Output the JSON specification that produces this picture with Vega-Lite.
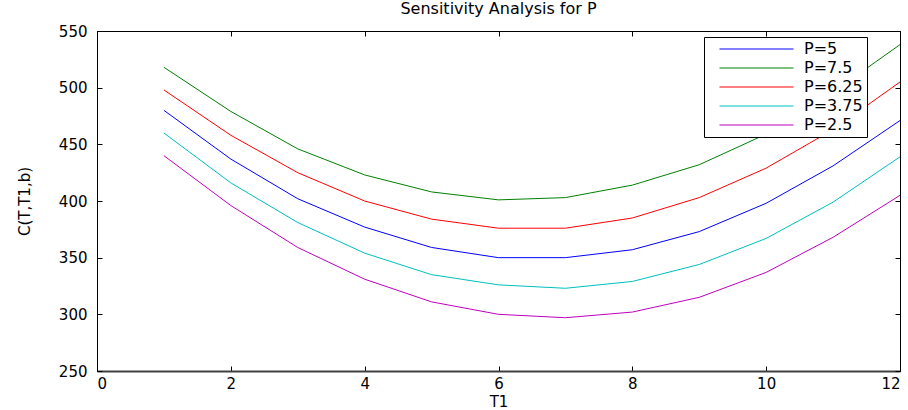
{
  "$schema": "https://vega.github.io/schema/vega-lite/v6.json",
  "width": 803,
  "height": 340,
  "autosize": {"type": "none"},
  "padding": {"left": 97, "top": 31, "right": 8, "bottom": 39},
  "background": "white",
  "title": {"text": "Sensitivity Analysis for P", "fontSize": 16, "fontWeight": "normal", "font": "DejaVu Sans", "offset": 7, "color": "black"},
  "config": {
    "view": {"stroke": "black", "strokeWidth": 1},
    "axis": {
      "grid": false,
      "ticks": true,
      "domainColor": "black",
      "tickColor": "black",
      "tickSize": -5,
      "tickWidth": 1,
      "labelFont": "DejaVu Sans",
      "labelFontSize": 15,
      "labelColor": "black",
      "titleFont": "DejaVu Sans",
      "titleFontSize": 15,
      "titleFontWeight": "normal",
      "titleColor": "black"
    },
    "legend": {
      "orient": "none",
      "legendX": 607,
      "legendY": 6,
      "symbolType": "stroke",
      "symbolSize": 5476,
      "symbolStrokeWidth": 1,
      "clipHeight": 16,
      "rowPadding": 3,
      "padding": 4,
      "symbolOffset": 11,
      "labelOffset": 10,
      "strokeColor": "black",
      "fillColor": "white",
      "labelFont": "DejaVu Sans",
      "labelFontSize": 16,
      "labelColor": "black"
    }
  },
  "data": {
    "values": [
      {"P": "P=7.5", "T1": 1, "C": 518}, {"P": "P=7.5", "T1": 2, "C": 479}, {"P": "P=7.5", "T1": 3, "C": 446}, {"P": "P=7.5", "T1": 4, "C": 423}, {"P": "P=7.5", "T1": 5, "C": 408}, {"P": "P=7.5", "T1": 6, "C": 401}, {"P": "P=7.5", "T1": 7, "C": 403}, {"P": "P=7.5", "T1": 8, "C": 414}, {"P": "P=7.5", "T1": 9, "C": 432}, {"P": "P=7.5", "T1": 10, "C": 459}, {"P": "P=7.5", "T1": 11, "C": 496}, {"P": "P=7.5", "T1": 12, "C": 538},
      {"P": "P=6.25", "T1": 1, "C": 498}, {"P": "P=6.25", "T1": 2, "C": 458}, {"P": "P=6.25", "T1": 3, "C": 425}, {"P": "P=6.25", "T1": 4, "C": 400}, {"P": "P=6.25", "T1": 5, "C": 384}, {"P": "P=6.25", "T1": 6, "C": 376}, {"P": "P=6.25", "T1": 7, "C": 376}, {"P": "P=6.25", "T1": 8, "C": 385}, {"P": "P=6.25", "T1": 9, "C": 403}, {"P": "P=6.25", "T1": 10, "C": 429}, {"P": "P=6.25", "T1": 11, "C": 463}, {"P": "P=6.25", "T1": 12, "C": 505},
      {"P": "P=5", "T1": 1, "C": 480}, {"P": "P=5", "T1": 2, "C": 437}, {"P": "P=5", "T1": 3, "C": 402}, {"P": "P=5", "T1": 4, "C": 377}, {"P": "P=5", "T1": 5, "C": 359}, {"P": "P=5", "T1": 6, "C": 350}, {"P": "P=5", "T1": 7, "C": 350}, {"P": "P=5", "T1": 8, "C": 357}, {"P": "P=5", "T1": 9, "C": 373}, {"P": "P=5", "T1": 10, "C": 398}, {"P": "P=5", "T1": 11, "C": 431}, {"P": "P=5", "T1": 12, "C": 471},
      {"P": "P=3.75", "T1": 1, "C": 460}, {"P": "P=3.75", "T1": 2, "C": 416}, {"P": "P=3.75", "T1": 3, "C": 381}, {"P": "P=3.75", "T1": 4, "C": 354}, {"P": "P=3.75", "T1": 5, "C": 335}, {"P": "P=3.75", "T1": 6, "C": 326}, {"P": "P=3.75", "T1": 7, "C": 323}, {"P": "P=3.75", "T1": 8, "C": 329}, {"P": "P=3.75", "T1": 9, "C": 344}, {"P": "P=3.75", "T1": 10, "C": 367}, {"P": "P=3.75", "T1": 11, "C": 399}, {"P": "P=3.75", "T1": 12, "C": 439},
      {"P": "P=2.5", "T1": 1, "C": 440}, {"P": "P=2.5", "T1": 2, "C": 396}, {"P": "P=2.5", "T1": 3, "C": 359}, {"P": "P=2.5", "T1": 4, "C": 331}, {"P": "P=2.5", "T1": 5, "C": 311}, {"P": "P=2.5", "T1": 6, "C": 300}, {"P": "P=2.5", "T1": 7, "C": 297}, {"P": "P=2.5", "T1": 8, "C": 302}, {"P": "P=2.5", "T1": 9, "C": 315}, {"P": "P=2.5", "T1": 10, "C": 337}, {"P": "P=2.5", "T1": 11, "C": 368}, {"P": "P=2.5", "T1": 12, "C": 405}
    ]
  },
  "layer": [
    {
      "mark": {"type": "line", "strokeWidth": 1, "clip": true},
      "encoding": {
        "x": {"field": "T1", "type": "quantitative", "scale": {"domain": [0, 12], "nice": false},
              "axis": {"values": [0, 2, 4, 6, 8, 10, 12], "title": "T1", "labelPadding": 10, "titlePadding": 3, "domainColor": "#404040", "domainWidth": 2}},
        "y": {"field": "C", "type": "quantitative", "scale": {"domain": [250, 550], "nice": false, "zero": false},
              "axis": {"values": [250, 300, 350, 400, 450, 500, 550], "title": "C(T,T1,b)", "labelPadding": 15, "titlePadding": 26}},
        "color": {"field": "P", "type": "nominal",
                  "scale": {"domain": ["P=5", "P=7.5", "P=6.25", "P=3.75", "P=2.5"], "range": ["#0000ff", "#008000", "#ff0000", "#00bfbf", "#bf00bf"]},
                  "legend": {"title": null}}
      }
    },
    {
      "mark": {"type": "line", "opacity": 0},
      "encoding": {
        "x": {"field": "T1", "type": "quantitative", "scale": {"domain": [0, 12], "nice": false},
              "axis": {"orient": "top", "values": [0, 2, 4, 6, 8, 10, 12], "labels": false, "title": null}},
        "y": {"field": "C", "type": "quantitative", "scale": {"domain": [250, 550], "nice": false, "zero": false},
              "axis": {"orient": "right", "values": [250, 300, 350, 400, 450, 500, 550], "labels": false, "title": null}},
        "detail": {"field": "P"}
      }
    }
  ],
  "resolve": {"axis": {"x": "independent", "y": "independent"}}
}
